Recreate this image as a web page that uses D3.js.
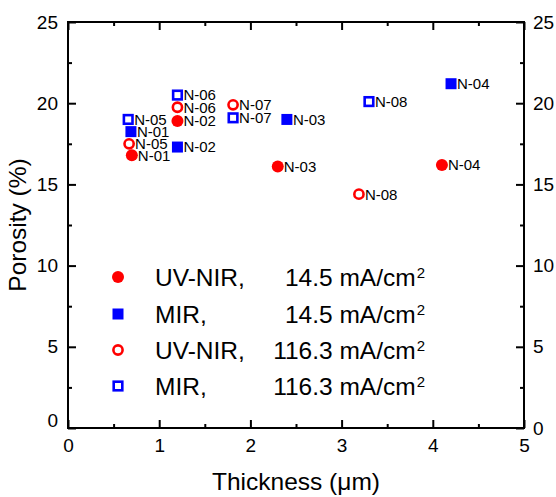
<!DOCTYPE html>
<html><head><meta charset="utf-8">
<script src="https://cdn.jsdelivr.net/npm/d3@7"></script>
<style>body{margin:0;background:#fff}svg{display:block}text{font-family:"Liberation Sans",Arial,sans-serif}</style>
</head><body>
<svg id="c" width="556" height="497"></svg>
<script>
const uvLowX = [0.70, 1.20, 2.30, 4.10];
const uvLowY = [16.8, 18.9, 16.1, 16.2];
const uvLowLbl = ["N-01","N-02","N-03","N-04"];
const mirLowX = [0.69, 1.20, 2.40, 4.20];
const mirLowY = [18.25, 17.3, 19.0, 21.2];
const mirLowLbl = ["N-01","N-02","N-03","N-04"];
const uvHighX = [0.67, 1.20, 1.81, 3.19];
const uvHighY = [17.5, 19.75, 19.9, 14.4];
const uvHighLbl = ["N-05","N-06","N-07","N-08"];
const mirHighX = [0.66, 1.20, 1.81, 3.30];
const mirHighY = [19.0, 20.5, 19.1, 20.1];
const mirHighLbl = ["N-05","N-06","N-07","N-08"];
const xTicks = [0,1,2,3,4,5];
const yTicks = [0,5,10,15,20,25];
const legendNames = ["UV-NIR,", "MIR,", "UV-NIR,", "MIR,"];
const legendValues = ["14.5 mA/cm", "14.5 mA/cm", "116.3 mA/cm", "116.3 mA/cm"];

const svg = d3.select("#c");
const L=68,R=524,T=22,B=428;
const x = d3.scaleLinear().domain([0,5]).range([L,R]);
const y = d3.scaleLinear().domain([0,25]).range([B,T]);

function styleAxis(g){ g.select(".domain").remove(); g.selectAll("line").attr("stroke","#000").attr("stroke-width",2); g.selectAll("text").attr("fill","#000").attr("font-size",19); }
const xMinor = d3.range(0.5,5,1), yMinor = d3.range(2.5,25,5);
// bottom
svg.append("g").attr("transform",`translate(0,${B})`).call(d3.axisBottom(x).tickValues(xTicks).tickFormat(d3.format("d")).tickSizeInner(-8).tickSizeOuter(0).tickPadding(11)).call(styleAxis);
svg.append("g").attr("transform",`translate(0,${B})`).call(d3.axisBottom(x).tickValues(xMinor).tickFormat("").tickSizeInner(-4).tickSizeOuter(0)).call(styleAxis);
// top
svg.append("g").attr("transform",`translate(0,${T})`).call(d3.axisTop(x).tickValues(xTicks).tickFormat("").tickSizeInner(-8).tickSizeOuter(0)).call(styleAxis);
svg.append("g").attr("transform",`translate(0,${T})`).call(d3.axisTop(x).tickValues(xMinor).tickFormat("").tickSizeInner(-4).tickSizeOuter(0)).call(styleAxis);
// left
const gl = svg.append("g").attr("transform",`translate(${L},0)`).call(d3.axisLeft(y).tickValues(yTicks).tickFormat(d3.format("d")).tickSizeInner(-8).tickSizeOuter(0).tickPadding(10)).call(styleAxis);
gl.selectAll(".tick").filter(d=>d===0).select("text").attr("dy","-0.1em");
svg.append("g").attr("transform",`translate(${L},0)`).call(d3.axisLeft(y).tickValues(yMinor).tickFormat("").tickSizeInner(-4).tickSizeOuter(0)).call(styleAxis);
// right
svg.append("g").attr("transform",`translate(${R},0)`).call(d3.axisRight(y).tickValues(yTicks).tickFormat(d3.format("d")).tickSizeInner(-8).tickSizeOuter(0).tickPadding(9)).call(styleAxis);
svg.append("g").attr("transform",`translate(${R},0)`).call(d3.axisRight(y).tickValues(yMinor).tickFormat("").tickSizeInner(-4).tickSizeOuter(0)).call(styleAxis);
// frame
svg.append("rect").attr("x",L).attr("y",T).attr("width",R-L).attr("height",B-T).attr("fill","none").attr("stroke","#000").attr("stroke-width",2);

// titles
svg.append("text").attr("x",(L+R)/2).attr("y",490).attr("text-anchor","middle").attr("font-size",24.5).attr("fill","#000").text("Thickness (\u03bcm)");
svg.append("text").attr("transform",`translate(26,${(T+B)/2}) rotate(-90)`).attr("text-anchor","middle").attr("font-size",24.5).attr("fill","#000").text("Porosity (%)");

const red="#ff0000", blue="#0000ff";
function marker(g, kind, cx, cy){
  if(kind==="fc") g.append("circle").attr("cx",cx).attr("cy",cy).attr("r",6).attr("fill",red);
  else if(kind==="fs") g.append("rect").attr("x",cx-5.5).attr("y",cy-5.5).attr("width",11).attr("height",11).attr("fill",blue);
  else if(kind==="oc") g.append("circle").attr("cx",cx).attr("cy",cy).attr("r",4.6).attr("fill","#fff").attr("stroke",red).attr("stroke-width",2.6);
  else g.append("rect").attr("x",cx-4.3).attr("y",cy-4.3).attr("width",8.6).attr("height",8.6).attr("fill","#fff").attr("stroke",blue).attr("stroke-width",2.6);
}
const series = [
  {k:"fc", xs:uvLowX, ys:uvLowY, l:uvLowLbl},
  {k:"fs", xs:mirLowX, ys:mirLowY, l:mirLowLbl},
  {k:"oc", xs:uvHighX, ys:uvHighY, l:uvHighLbl},
  {k:"os", xs:mirHighX, ys:mirHighY, l:mirHighLbl}
];
const gp = svg.append("g");
series.forEach(s=>{
  s.xs.forEach((xv,i)=>{
    const cx=x(xv), cy=y(s.ys[i]);
    marker(gp, s.k, cx, cy);
    gp.append("text").attr("x",cx+6).attr("y",cy).attr("dy","0.36em").attr("font-size",15).attr("fill","#000").text(s.l[i]);
  });
});

// legend
const lg = svg.append("g");
const rowsY=[277,314,350,386];
series.forEach((s,i)=>{
  marker(lg, s.k, 118, rowsY[i]);
  lg.append("text").attr("x",155).attr("y",rowsY[i]).attr("dy","0.36em").attr("font-size",24.5).attr("fill","#000").text(legendNames[i]);
  const t = lg.append("text").attr("x",425).attr("y",rowsY[i]).attr("dy","0.36em").attr("text-anchor","end").attr("font-size",24.5).attr("fill","#000");
  t.append("tspan").text(legendValues[i]);
  t.append("tspan").attr("dx",1).attr("dy","-0.5em").attr("font-size",15).text("2");
});
</script>
</body></html>
